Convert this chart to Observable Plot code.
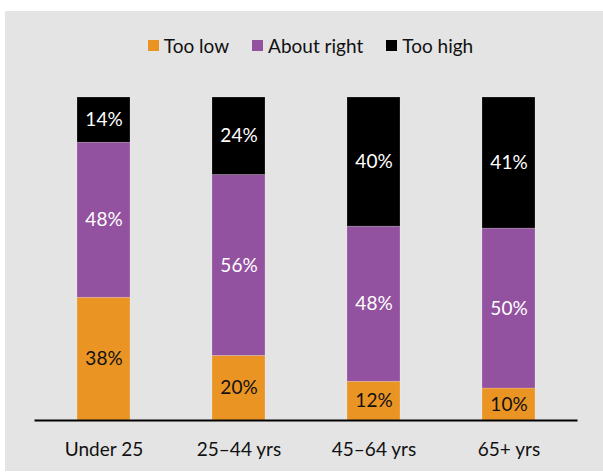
<!DOCTYPE html>
<html>
<head>
<meta charset="utf-8">
<script src="https://cdn.jsdelivr.net/npm/d3@7"></script>
<script src="https://cdn.jsdelivr.net/npm/@observablehq/plot@0.6"></script>
<style>
  html, body { margin: 0; padding: 0; background: #ffffff; width: 603px; height: 472px; overflow: hidden; }
  #panel { position: absolute; left: 5px; top: 11px; width: 598px; height: 460px; background: #e4e4e4; font-family: Lato, "Open Sans", sans-serif; }
  #legend { position: absolute; top: 23px; left: 0; width: 598px; display: flex; justify-content: center; align-items: center; font-size: 19px; color: #111; padding-left: 13px; box-sizing: border-box; }
  .item { display: flex; align-items: center; margin: 0 11.5px; }
  .sw { width: 11px; height: 11px; margin-right: 5px; display: inline-block; }
  #chart { position: absolute; left: 0; top: 64px; }
</style>
</head>
<body>
<div id="panel">
  <div id="legend"></div>
  <div id="chart"></div>
</div>
<script>
const categories = ["Under 25", "25–44 yrs", "45–64 yrs", "65+ yrs"];
const seriesNames = ["Too low", "About right", "Too high"];
const tooLow = [38, 20, 12, 10];
const aboutRight = [48, 56, 48, 50];
const tooHigh = [14, 24, 40, 41];

const colors = ["#ea9424", "#93529f", "#000000"];
const textColors = ["#111111", "#ffffff", "#ffffff"];

const seriesValues = [tooLow, aboutRight, tooHigh];
const data = [];
categories.forEach((c, i) => {
  seriesNames.forEach((s, j) => {
    data.push({category: c, series: s, value: seriesValues[j][i]});
  });
});

// legend
const legend = document.getElementById("legend");
seriesNames.forEach((s, j) => {
  const it = document.createElement("div");
  it.className = "item";
  const sw = document.createElement("span");
  sw.className = "sw";
  sw.style.background = colors[j];
  const t = document.createElement("span");
  t.textContent = s;
  it.appendChild(sw);
  it.appendChild(t);
  legend.appendChild(it);
});

const stackOpts = {x: "category", y: "value", z: "series", order: seriesNames, offset: "normalize"};

const chart = Plot.plot({
  width: 598,
  height: 396,
  marginLeft: 29.5,
  marginRight: 25.5,
  marginTop: 22,
  marginBottom: 51,
  style: {fontFamily: "Lato, 'Open Sans', sans-serif", fontSize: "19px", background: "transparent", color: "#111"},
  x: {domain: categories, paddingInner: 0.61, paddingOuter: 0.305, label: null, tickSize: 0, tickPadding: 22},
  y: {domain: [0, 1], axis: null},
  color: {domain: seriesNames, range: colors},
  marks: [
    Plot.barY(data, Plot.stackY({...stackOpts, fill: "series", stroke: "#ffffff", strokeOpacity: 0.25, strokeWidth: 0.75})),
    Plot.text(data, Plot.stackY({...stackOpts, text: d => d.value + "%", fill: d => textColors[seriesNames.indexOf(d.series)], fontSize: 19})),
    Plot.ruleY([0], {stroke: "#000", strokeWidth: 2})
  ]
});
document.getElementById("chart").appendChild(chart);
</script>
</body>
</html>
